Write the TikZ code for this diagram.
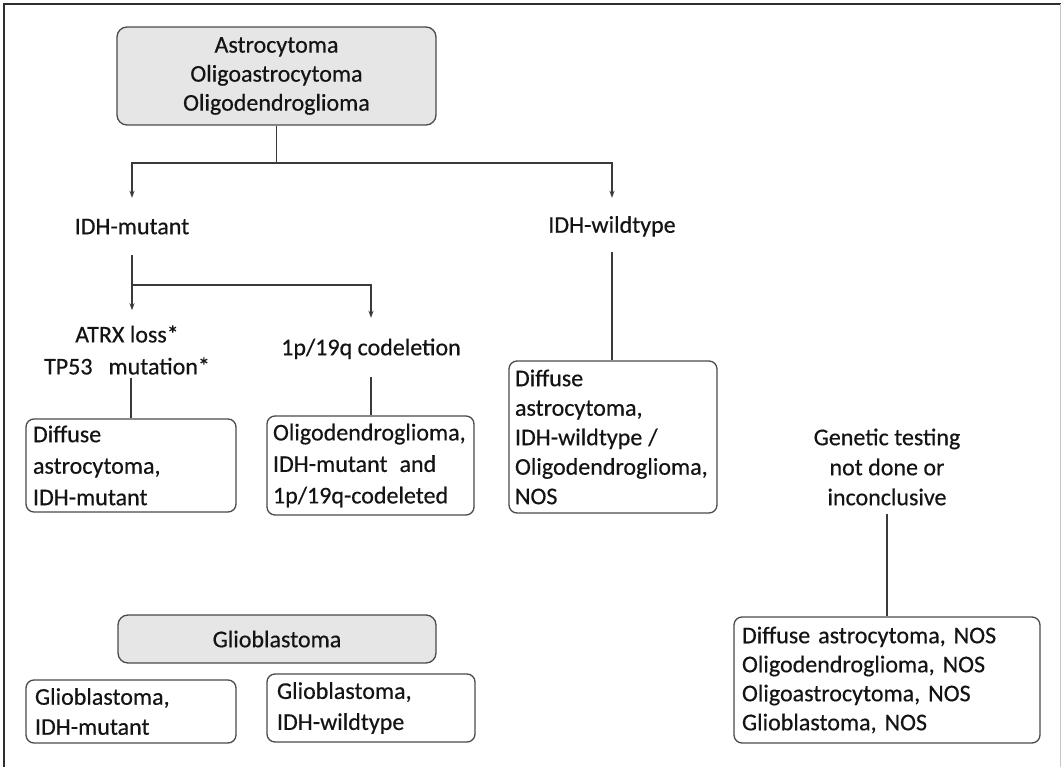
\documentclass[tikz,border=0pt]{standalone}
\usepackage{fontspec}
\setmainfont{Carlito}[FakeBold=0.45]
\usetikzlibrary{arrows.meta}
\definecolor{ink}{HTML}{141414}
\definecolor{edgec}{HTML}{4A4A4A}
\definecolor{wirec}{HTML}{3A3A3A}
\definecolor{boxgray}{HTML}{E6E6E6}
\definecolor{framec}{HTML}{2E2E2E}
\newcommand\fsz[1]{\fontsize{24}{#1}\selectfont}
\begin{document}
\begin{tikzpicture}[x=1pt,y=1pt,
  box/.style={draw=edgec, line width=1.3pt, rounded corners=8pt, align=left, inner ysep=0pt, text=ink},
  gbox/.style={box, fill=boxgray, align=center, rounded corners=10pt},
  lbl/.style={align=center, inner sep=0pt, text=ink, font=\fsz{30}},
  one/.style={lbl, text height=15.5pt, text depth=0pt},
  wire/.style={draw=wirec, line width=1.2pt},
  arr/.style={wire, -{Stealth[length=7pt,width=5pt]}}]
\useasboundingbox (0,0) rectangle (1061,-767);
% frame
\draw[framec, line width=2.5pt] (4,-767) -- (4,-4) -- (1061,-4);
\draw[black!22, line width=1pt] (1060,-4) -- (1060,-767);

% nodes
\node[gbox, minimum width=319pt, minimum height=98pt, font=\fsz{29}] (top) at (276.5,-76)
  {Astrocytoma\\Oligoastrocytoma\\Oligodendroglioma};
\node[one, inner ysep=20.75pt] (mut) at (132,-226.5) {IDH-mutant};
\node[one, inner ysep=19.25pt] (wt) at (612,-225) {IDH-wildtype};
\node[lbl, font=\fsz{32}] (atrx) at (127,-350) {ATRX loss*\\TP53\hspace{16pt}mutation*};
\node[one, inner ysep=21.75pt] (codel) at (371,-347.5) {1p/19q codeletion};
\node[box, text width=196pt, inner xsep=7pt, minimum height=93pt, font=\fsz{31.5}] (diff) at (131,-465.5)
  {Diffuse\\astrocytoma,\\IDH-mutant};
\node[box, text width=195pt, inner xsep=6pt, minimum height=99pt, font=\fsz{31.5}] (oligo) at (370.5,-465.5)
  {Oligodendroglioma,\\IDH-mutant\hspace{12pt}and\\1p/19q-codeleted};
\node[box, text width=196pt, inner xsep=6pt, minimum height=152pt, font=\fsz{29.5}] (wtbox) at (613,-437)
  {Diffuse\\astrocytoma,\\IDH-wildtype\hspace{6pt}/\\Oligodendroglioma,\\NOS};
\node[lbl] (gen) at (887,-467) {Genetic testing\\not done or\\inconclusive};
\node[box, text width=290pt, inner xsep=8pt, minimum height=126pt, font=\fsz{29}] (nos) at (887,-680)
  {Diffuse astrocytoma, NOS\\Oligodendroglioma, NOS\\Oligoastrocytoma, NOS\\Glioblastoma, NOS};
\node[gbox, minimum width=318pt, minimum height=48pt, font=\fsz{29}] (glio) at (277,-639) {Glioblastoma};
\node[box, text width=192pt, inner xsep=9pt, minimum height=63pt, font=\fsz{30}] (gm) at (131,-711.5)
  {Glioblastoma,\\IDH-mutant};
\node[box, text width=188pt, inner xsep=10pt, minimum height=68pt, font=\fsz{31}] (gw) at (371,-708)
  {Glioblastoma,\\IDH-wildtype};

% connectors
\coordinate (j1) at (276.5,-163);
\coordinate (j2) at (132,-285);
\draw[wire] (top.south) -- (j1);
\draw[arr] (j1) -| (mut.north);
\draw[arr] (j1) -| (wt.north);
\draw[wire] (mut.south) -- (j2);
\draw[arr, shorten >=15pt] (j2) -- (j2 |- atrx.north);
\draw[arr] (j2) -| (codel.north);
\draw[wire, shorten <=3pt] (diff.north |- atrx.south) -- (diff.north);
\draw[wire] (codel.south) -- (codel.south |- oligo.north);
\draw[wire] (wt.south) -- (wt.south |- wtbox.north);
\draw[wire, shorten <=8pt] (gen.south) -- (nos.north);
\end{tikzpicture}
\end{document}
